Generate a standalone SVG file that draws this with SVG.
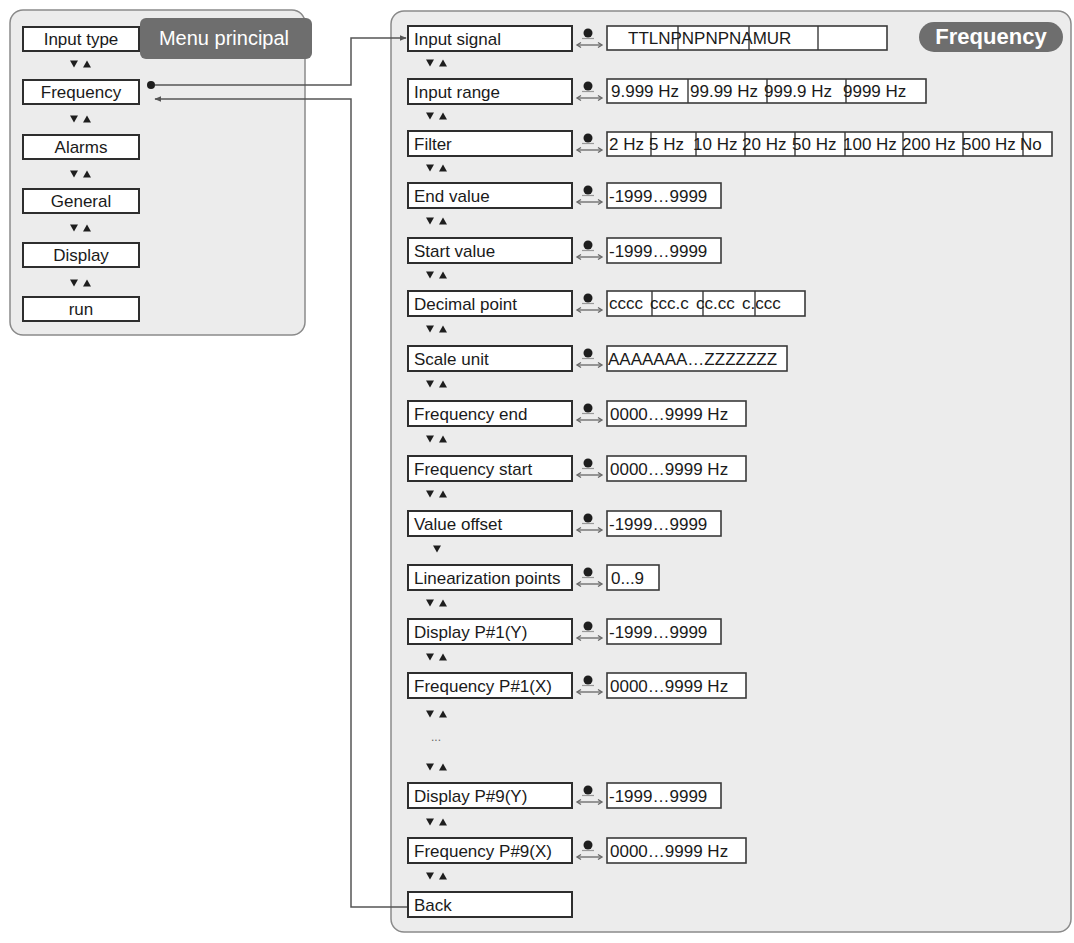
<svg xmlns="http://www.w3.org/2000/svg" xmlns:xlink="http://www.w3.org/1999/xlink" width="1074" height="943" viewBox="0 0 1074 943">
<style>
.panel{fill:#ececec;stroke:#8a8a8a;stroke-width:1.5}
.box{fill:#fff;stroke:#2e2e2e;stroke-width:2}
.vbox{fill:#fff;stroke:#3a3a3a;stroke-width:1.6}
.div{stroke:#3a3a3a;stroke-width:1.4}
.t{font-family:"Liberation Sans",Arial,sans-serif;font-size:17px;fill:#1a1a1a}
.tc{text-anchor:middle}
.tag{fill:#6e6e6e}
.tagt{font-family:"Liberation Sans",Arial,sans-serif;fill:#fff}
.conn{fill:none;stroke:#555;stroke-width:1.5}
.dots{font-family:"Liberation Sans",Arial,sans-serif;font-size:12px;fill:#666}
</style>
<defs>
<g id="ud"><polygon points="-11,-3.5 -3,-3.5 -7,3.5" fill="#1e1e1e"/><polygon points="2,3.5 10,3.5 6,-3.5" fill="#1e1e1e"/></g>
<g id="dn"><polygon points="-4,-3.5 4,-3.5 0,3.5" fill="#1e1e1e"/></g>
<g id="icon"><circle cx="0" cy="7" r="4.5" fill="#1e1e1e"/><line x1="-6" y1="12.5" x2="6" y2="12.5" stroke="#999" stroke-width="1.2"/><line x1="-10" y1="19" x2="13" y2="19" stroke="#666" stroke-width="1.3"/><polyline points="-7,16.5 -11,19 -7,21.5" fill="none" stroke="#666" stroke-width="1.3"/><polyline points="10,16.5 14,19 10,21.5" fill="none" stroke="#666" stroke-width="1.3"/></g>
<marker id="ah" viewBox="0 0 10 10" refX="9" refY="5" markerWidth="7" markerHeight="7" orient="auto-start-reverse" markerUnits="userSpaceOnUse"><path d="M0,1 L10,5 L0,9 z" fill="#555"/></marker>
</defs>
<rect width="1074" height="943" fill="#fff"/>

<g id="main-menu">
<rect class="panel" x="10" y="10" width="295" height="325" rx="13"/>
<g id="m-input-type"><rect class="box" x="23" y="27" width="116" height="24"/><text class="t tc" x="81" y="45">Input type</text></g>
<use xlink:href="#ud" x="81" y="64"/>
<g id="m-frequency"><rect class="box" x="23" y="80" width="116" height="24"/><text class="t tc" x="81" y="98">Frequency</text><circle cx="151" cy="85" r="4" fill="#1e1e1e"/></g>
<use xlink:href="#ud" x="81" y="119"/>
<g id="m-alarms"><rect class="box" x="23" y="135" width="116" height="24"/><text class="t tc" x="81" y="153">Alarms</text></g>
<use xlink:href="#ud" x="81" y="174"/>
<g id="m-general"><rect class="box" x="23" y="189" width="116" height="24"/><text class="t tc" x="81" y="207">General</text></g>
<use xlink:href="#ud" x="81" y="228"/>
<g id="m-display"><rect class="box" x="23" y="243" width="116" height="24"/><text class="t tc" x="81" y="261">Display</text></g>
<use xlink:href="#ud" x="81" y="283"/>
<g id="m-run"><rect class="box" x="23" y="297" width="116" height="24"/><text class="t tc" x="81" y="315">run</text></g>
<g id="tag-menu"><rect class="tag" x="140" y="18" width="172" height="41" rx="6"/><text class="tagt" x="224" y="45" font-size="20" text-anchor="middle">Menu principal</text></g>
</g>

<g id="freq-panel">
<rect class="panel" x="391" y="11" width="680" height="921" rx="13"/>
<g id="tag-freq"><rect class="tag" x="919" y="22" width="144" height="30" rx="15"/><text class="tagt" x="991" y="44" font-size="22" font-weight="bold" text-anchor="middle">Frequency</text></g>

<g id="r-input-signal"><rect class="box" x="408" y="26" width="164" height="25"/><text class="t" x="414" y="45">Input signal</text><use xlink:href="#icon" x="588" y="26"/>
<rect class="vbox" x="607" y="26" width="280" height="24"/><line class="div" x1="678" y1="26" x2="678" y2="50"/><line class="div" x1="749" y1="26" x2="749" y2="50"/><line class="div" x1="818" y1="26" x2="818" y2="50"/><text class="t" x="628" y="44">TTLNPNPNPNAMUR</text></g>
<use xlink:href="#ud" x="437" y="63"/>

<g id="r-input-range"><rect class="box" x="408" y="79" width="164" height="25"/><text class="t" x="414" y="98">Input range</text><use xlink:href="#icon" x="588" y="79"/>
<rect class="vbox" x="607" y="79" width="319" height="24"/><line class="div" x1="688" y1="79" x2="688" y2="103"/><line class="div" x1="767" y1="79" x2="767" y2="103"/><line class="div" x1="846" y1="79" x2="846" y2="103"/>
<text class="t" x="611" y="97">9.999 Hz</text><text class="t" x="690" y="97">99.99 Hz</text><text class="t" x="764" y="97">999.9 Hz</text><text class="t" x="843" y="97">9999 Hz</text></g>
<use xlink:href="#ud" x="437" y="116"/>

<g id="r-filter"><rect class="box" x="408" y="131" width="164" height="25"/><text class="t" x="414" y="150">Filter</text><use xlink:href="#icon" x="588" y="131"/>
<rect class="vbox" x="607" y="132" width="445" height="24"/>
<line class="div" x1="651" y1="132" x2="651" y2="156"/><line class="div" x1="696" y1="132" x2="696" y2="156"/><line class="div" x1="745" y1="132" x2="745" y2="156"/><line class="div" x1="795" y1="132" x2="795" y2="156"/><line class="div" x1="845" y1="132" x2="845" y2="156"/><line class="div" x1="903" y1="132" x2="903" y2="156"/><line class="div" x1="963" y1="132" x2="963" y2="156"/><line class="div" x1="1023" y1="132" x2="1023" y2="156"/>
<text class="t" x="609" y="150">2 Hz</text><text class="t" x="649" y="150">5 Hz</text><text class="t" x="693" y="150">10 Hz</text><text class="t" x="742" y="150">20 Hz</text><text class="t" x="792" y="150">50 Hz</text><text class="t" x="843" y="150">100 Hz</text><text class="t" x="902" y="150">200 Hz</text><text class="t" x="962" y="150">500 Hz</text><text class="t" x="1020" y="150">No</text></g>
<use xlink:href="#ud" x="437" y="168"/>

<g id="r-end-value"><rect class="box" x="408" y="183" width="164" height="25"/><text class="t" x="414" y="202">End value</text><use xlink:href="#icon" x="588" y="183"/>
<rect class="vbox" x="607" y="183" width="114" height="25"/><text class="t" x="609" y="202">-1999…9999</text></g>
<use xlink:href="#ud" x="437" y="221"/>

<g id="r-start-value"><rect class="box" x="408" y="238" width="164" height="25"/><text class="t" x="414" y="257">Start value</text><use xlink:href="#icon" x="588" y="238"/>
<rect class="vbox" x="607" y="238" width="114" height="25"/><text class="t" x="609" y="257">-1999…9999</text></g>
<use xlink:href="#ud" x="437" y="275"/>

<g id="r-decimal-point"><rect class="box" x="408" y="291" width="164" height="25"/><text class="t" x="414" y="310">Decimal point</text><use xlink:href="#icon" x="588" y="291"/>
<rect class="vbox" x="607" y="291" width="198" height="25"/><line class="div" x1="652" y1="291" x2="652" y2="316"/><line class="div" x1="703" y1="291" x2="703" y2="316"/><line class="div" x1="755" y1="291" x2="755" y2="316"/>
<text class="t" x="609" y="309">cccc</text><text class="t" x="650" y="309">ccc.c</text><text class="t" x="696" y="309">cc.cc</text><text class="t" x="742" y="309">c.ccc</text></g>
<use xlink:href="#ud" x="437" y="329"/>

<g id="r-scale-unit"><rect class="box" x="408" y="346" width="164" height="25"/><text class="t" x="414" y="365">Scale unit</text><use xlink:href="#icon" x="588" y="346"/>
<rect class="vbox" x="607" y="346" width="180" height="25"/><text class="t" x="608" y="365">AAAAAAA…ZZZZZZZ</text></g>
<use xlink:href="#ud" x="437" y="384"/>

<g id="r-frequency-end"><rect class="box" x="408" y="401" width="164" height="25"/><text class="t" x="414" y="420">Frequency end</text><use xlink:href="#icon" x="588" y="401"/>
<rect class="vbox" x="607" y="401" width="139" height="25"/><text class="t" x="610" y="420">0000…9999 Hz</text></g>
<use xlink:href="#ud" x="437" y="439"/>

<g id="r-frequency-start"><rect class="box" x="408" y="456" width="164" height="25"/><text class="t" x="414" y="475">Frequency start</text><use xlink:href="#icon" x="588" y="456"/>
<rect class="vbox" x="607" y="456" width="139" height="25"/><text class="t" x="610" y="475">0000…9999 Hz</text></g>
<use xlink:href="#ud" x="437" y="494"/>

<g id="r-value-offset"><rect class="box" x="408" y="511" width="164" height="25"/><text class="t" x="414" y="530">Value offset</text><use xlink:href="#icon" x="588" y="511"/>
<rect class="vbox" x="607" y="511" width="114" height="25"/><text class="t" x="609" y="530">-1999…9999</text></g>
<use xlink:href="#dn" x="437" y="549"/>

<g id="r-linearization-points"><rect class="box" x="408" y="565" width="164" height="25"/><text class="t" x="414" y="584">Linearization points</text><use xlink:href="#icon" x="588" y="565"/>
<rect class="vbox" x="607" y="565" width="52" height="25"/><text class="t" x="611" y="584">0...9</text></g>
<use xlink:href="#ud" x="437" y="603"/>

<g id="r-display-p1"><rect class="box" x="408" y="619" width="164" height="25"/><text class="t" x="414" y="638">Display P#1(Y)</text><use xlink:href="#icon" x="588" y="619"/>
<rect class="vbox" x="607" y="619" width="114" height="25"/><text class="t" x="609" y="638">-1999…9999</text></g>
<use xlink:href="#ud" x="437" y="657"/>

<g id="r-frequency-p1"><rect class="box" x="408" y="673" width="164" height="25"/><text class="t" x="414" y="692">Frequency P#1(X)</text><use xlink:href="#icon" x="588" y="673"/>
<rect class="vbox" x="607" y="673" width="139" height="25"/><text class="t" x="610" y="692">0000…9999 Hz</text></g>
<use xlink:href="#ud" x="437" y="714"/>
<text class="dots" x="436" y="741" text-anchor="middle">...</text>
<use xlink:href="#ud" x="437" y="767"/>

<g id="r-display-p9"><rect class="box" x="408" y="783" width="164" height="25"/><text class="t" x="414" y="802">Display P#9(Y)</text><use xlink:href="#icon" x="588" y="783"/>
<rect class="vbox" x="607" y="783" width="114" height="25"/><text class="t" x="609" y="802">-1999…9999</text></g>
<use xlink:href="#ud" x="437" y="822"/>

<g id="r-frequency-p9"><rect class="box" x="408" y="838" width="164" height="25"/><text class="t" x="414" y="857">Frequency P#9(X)</text><use xlink:href="#icon" x="588" y="838"/>
<rect class="vbox" x="607" y="838" width="139" height="25"/><text class="t" x="610" y="857">0000…9999 Hz</text></g>
<use xlink:href="#ud" x="437" y="876"/>

<g id="r-back"><rect class="box" x="408" y="892" width="164" height="25"/><text class="t" x="414" y="911">Back</text></g>
</g>

<g id="connectors">
<path class="conn" d="M155,85 H351 V38 H406" marker-end="url(#ah)"/>
<path class="conn" d="M407,907 H351 V99 H155" marker-end="url(#ah)"/>
</g>
</svg>
